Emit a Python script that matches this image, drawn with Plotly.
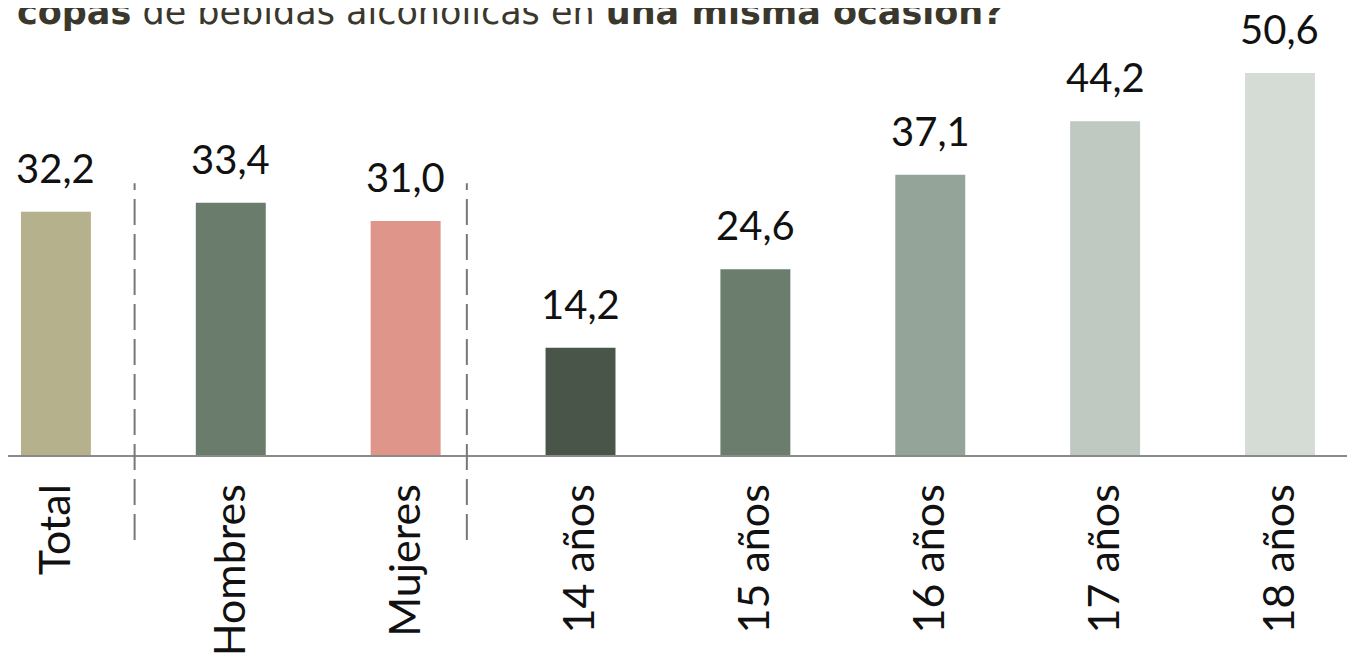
# Consumo intensivo de alcohol por sexo y edad

import plotly.graph_objects as go

categorias = ['Total', 'Hombres', 'Mujeres', '14 años', '15 años', '16 años', '17 años', '18 años']
valores = [32.2, 33.4, 31.0, 14.2, 24.6, 37.1, 44.2, 50.6]
colores = ['#b5b18d', '#6a7c6b', '#e0958a', '#4a5549', '#6b7d6d', '#94a498', '#bfc8c1', '#d5dcd6']
etiquetas = ['32,2', '33,4', '31,0', '14,2', '24,6', '37,1', '44,2', '50,6']
separadores = [0.45, 2.35]

titulo = ('<b>copas</b> de bebidas alcohólicas en '
          '<b>una misma ocasión?</b>')

fuente = 'Lato'

fig = go.Figure()
fig.add_trace(go.Bar(x=categorias, y=valores, marker_color=colores,
                     marker_line_width=0, width=0.4, hoverinfo='skip'))

for cat, val, txt in zip(categorias, valores, etiquetas):
    fig.add_annotation(x=cat, y=val, text=txt, showarrow=False,
                       yanchor='bottom', yshift=18,
                       font=dict(family=fuente, size=40, color='#111111'))

for s in separadores:
    fig.add_shape(type='line', xref='x', yref='paper', x0=s, x1=s,
                  y0=-0.19, y1=0.608,
                  line=dict(color='#777777', width=2, dash='26px,9px'))

# titulo recortado arriba, como en el original
fig.add_annotation(xref='paper', yref='paper', x=0.005, y=1, xanchor='left',
                   yanchor='bottom', yshift=-26, text=titulo, showarrow=False,
                   font=dict(family='DejaVu Sans', size=35, color='#3a382c'))

# la pagina deja 8px de margen, se compensa con el tamaño
fig.update_layout(
    width=1347, height=652,
    margin=dict(l=0, r=0, t=0, b=205, autoexpand=False),
    plot_bgcolor='white', paper_bgcolor='white',
    showlegend=False,
    xaxis=dict(range=[-0.274, 7.429], showgrid=False, showline=True,
               linecolor='#8a8a8a', linewidth=2, ticks='', tickangle=-90,
               ticklabelstandoff=10, automargin=False,
               tickfont=dict(family=fuente, size=43, color='#111111')),
    yaxis=dict(range=[0, 59.2], visible=False, automargin=False),
)

fig.write_html('out.html')
